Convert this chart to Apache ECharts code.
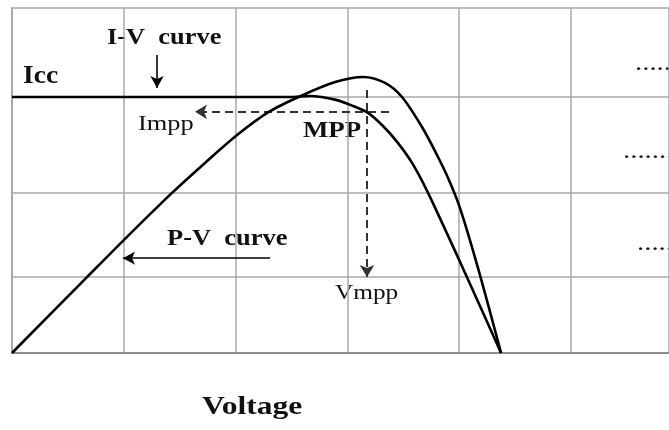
<!DOCTYPE html>
<html>
<head>
<meta charset="utf-8">
<script src="https://cdn.jsdelivr.net/npm/echarts@6/dist/echarts.min.js"></script>
<style>
  html, body { margin: 0; padding: 0; background: #fff; }
  #chart { width: 669px; height: 430px; }
</style>
</head>
<body>
<div id="chart"></div>
<script>
// P-V curve (voltage, power)
const pvVoltage = [0, 0.671, 1.002, 1.431, 1.726, 2.013, 2.308, 2.603, 2.898, 3.140, 3.336, 3.488, 3.667, 3.801, 3.909, 4.007, 4.168, 4.374];
const pvPower   = [0, 22.0, 32.8, 46.4, 55.1, 63.2, 70.1, 74.8, 78.6, 80.0, 78.3, 74.2, 65.5, 57.4, 50.1, 42.0, 24.6, 0];

// I-V curve (voltage, current)
const ivVoltage = [0, 2.487, 2.665, 2.907, 3.050, 3.184, 3.318, 3.444, 3.578, 3.721, 4.052, 4.374];
const ivCurrent = [74.2, 74.2, 74.5, 73.3, 71.6, 69.6, 65.8, 61.2, 55.1, 46.4, 23.2, 0];

// maximum power point
const mppVoltage = 3.175;
const mppCurrent = 69.9;

// horizontal grid rows (uneven in the picture)
const yGridValues = [22.0, 46.4, 74.2, 100];

const serif = '"Liberation Serif", "Times New Roman", serif';

const myChart = echarts.init(document.getElementById('chart'));

function pairs(xs, ys) {
  return xs.map((v, i) => [v, ys[i]]);
}

function label(text, x, y, size, bold, sx) {
  return {
    type: 'text',
    x: x,
    y: y,
    scaleX: sx,
    style: {
      text: text,
      font: (bold ? 'bold ' : '') + size + 'px ' + serif,
      fill: '#111',
      align: 'left',
      verticalAlign: 'middle'
    }
  };
}

myChart.setOption({
  animation: false,
  grid: { left: 12, right: 0, top: 8, bottom: 77 },
  xAxis: {
    type: 'value',
    min: 0,
    max: 5.876,
    interval: 1,
    axisLabel: { show: false },
    axisTick: { show: false },
    axisLine: { show: true, lineStyle: { color: '#8c8c8c', width: 2 } },
    splitLine: { show: true, lineStyle: { color: '#a8a8a8', width: 1.5 } }
  },
  yAxis: {
    type: 'value',
    min: 0,
    max: 100,
    axisLabel: { show: false },
    axisTick: { show: false },
    axisLine: { show: true, lineStyle: { color: '#a8a8a8', width: 2 } },
    splitLine: { show: false }
  },
  series: [
    {
      // grid rows
      type: 'line',
      data: [],
      z: 1,
      silent: true,
      markLine: {
        silent: true,
        symbol: ['none', 'none'],
        label: { show: false },
        lineStyle: { color: '#a8a8a8', width: 1.5, type: 'solid' },
        data: yGridValues.map(v => ({ yAxis: v }))
      }
    },
    {
      name: 'P-V',
      type: 'line',
      data: pairs(pvVoltage, pvPower),
      smooth: 0.3,
      showSymbol: false,
      z: 5,
      lineStyle: { color: '#000', width: 2.6 },
      markLine: {
        silent: true,
        symbol: ['none', 'arrow'],
        symbolSize: [10, 12],
        label: { show: false },
        lineStyle: { color: '#000', width: 1.6, type: 'solid' },
        data: [
          [{ coord: [1.297, 86.4] }, { coord: [1.297, 76.8] }],
          [{ coord: [2.308, 27.5] }, { coord: [0.993, 27.5] }]
        ]
      }
    },
    {
      name: 'I-V',
      type: 'line',
      data: pairs(ivVoltage, ivCurrent),
      smooth: 0.25,
      showSymbol: false,
      z: 5,
      lineStyle: { color: '#000', width: 2.6 },
      markLine: {
        silent: true,
        symbol: ['none', 'arrow'],
        symbolSize: [11, 12],
        label: { show: false },
        lineStyle: { color: '#333', width: 2, type: [8, 5] },
        data: [
          [{ coord: [mppVoltage, 76.2] }, { coord: [mppVoltage, 22.0] }],
          [{ coord: [3.372, mppCurrent] }, { coord: [1.637, mppCurrent] }]
        ]
      }
    }
  ],
  graphic: [
    label('I-V  curve', 107, 38, 24, true, 1.1),
    label('Icc', 23, 77, 25, true, 1.1),
    label('Impp', 138, 124, 22, false, 1.2),
    label('MPP', 303, 131, 24, true, 1.12),
    label('P-V  curve', 167, 239, 23, true, 1.15),
    label('Vmpp', 335, 293, 22, false, 1.15),
    label('Voltage', 202, 408, 25, true, 1.26),
    label('........', 635, 64, 24, false, 1.2),
    label('........', 623, 152, 24, false, 1.2),
    label('........', 637, 244, 24, false, 1.2)
  ]
});

window.onresize = function () {
  myChart.resize();
};
</script>
</body>
</html>
